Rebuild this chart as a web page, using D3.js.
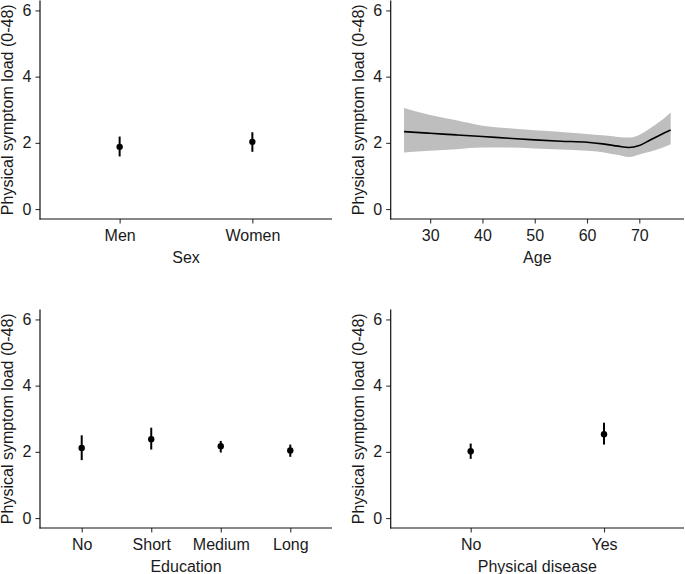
<!DOCTYPE html>
<html>
<head>
<meta charset="utf-8">
<script src="https://cdn.jsdelivr.net/npm/d3@7"></script>
<style>
  html, body { margin: 0; padding: 0; background: #fff; }
  svg text { font-family: "Liberation Sans", Arial, sans-serif; fill: #1a1a1a; }
</style>
</head>
<body>
<svg id="chart" width="685" height="574"></svg>
<script>
// ---------- data ----------
const yTicks = [0, 2, 4, 6];
const yTitle = "Physical symptom load (0-48)";

const sexCats  = ["Men", "Women"];
const sexMean  = [1.88, 2.03];
const sexLow   = [1.59, 1.73];
const sexHigh  = [2.19, 2.32];

const eduCats  = ["No", "Short", "Medium", "Long"];
const eduMean  = [2.12, 2.38, 2.17, 2.04];
const eduLow   = [1.75, 2.07, 1.98, 1.85];
const eduHigh  = [2.50, 2.73, 2.33, 2.22];

const disCats  = ["No", "Yes"];
const disMean  = [2.02, 2.53];
const disLow   = [1.79, 2.22];
const disHigh  = [2.25, 2.88];

const ageTicks = [30, 40, 50, 60, 70];
const ages     = [25, 30, 35, 40, 45, 50, 55, 60, 63, 66, 68, 70, 72, 74, 76];
const ageFit   = [2.34, 2.29, 2.24, 2.19, 2.14, 2.09, 2.05, 2.02, 1.97, 1.90, 1.86, 1.92, 2.08, 2.24, 2.39];
const ageUpper = [3.05, 2.84, 2.68, 2.52, 2.44, 2.38, 2.33, 2.27, 2.23, 2.18, 2.16, 2.24, 2.43, 2.65, 2.92];
const ageLower = [1.71, 1.76, 1.81, 1.86, 1.86, 1.83, 1.80, 1.76, 1.72, 1.63, 1.57, 1.65, 1.73, 1.83, 1.96];

// ---------- layout ----------
const svg = d3.select("#chart");
const FS = 16;
const panels = {
  tl: {x0: 40,    x1: 332, y0: 0.5,   y1: 219},
  tr: {x0: 390.7, x1: 684, y0: 0.5,   y1: 219},
  bl: {x0: 40,    x1: 332, y0: 309.5, y1: 528},
  br: {x0: 390.7, x1: 684, y0: 309.5, y1: 528}
};

function yScaleFor(p) {
  return d3.scaleLinear().domain([-0.3, 6.3]).range([p.y1, p.y0]);
}

function styleAxis(a) {
  a.select(".domain").remove();
  a.selectAll(".tick line").attr("stroke", "#333").attr("stroke-width", 1.1);
  a.selectAll(".tick text").style("font-size", FS + "px").attr("fill", "#1a1a1a")
    .style("font-family", '"Liberation Sans", Arial, sans-serif');
}

function drawFrame(p, y, xAxisGen, xTitle) {
  const g = svg.append("g");
  const ya = g.append("g").attr("transform", `translate(${p.x0},0)`)
    .call(d3.axisLeft(y).tickValues(yTicks).tickFormat(d3.format("d")).tickSize(4.5).tickPadding(4));
  const xa = g.append("g").attr("transform", `translate(0,${p.y1})`)
    .call(xAxisGen.tickSize(4.5).tickPadding(5));
  styleAxis(ya); styleAxis(xa);
  xa.selectAll(".tick text").attr("dy", "0.75em");
  g.append("line").attr("x1", p.x0).attr("x2", p.x0).attr("y1", p.y0).attr("y2", p.y1 + 0.5)
    .attr("stroke", "#111").attr("stroke-width", 1.2);
  g.append("line").attr("x1", p.x0 - 0.5).attr("x2", p.x1).attr("y1", p.y1).attr("y2", p.y1)
    .attr("stroke", "#111").attr("stroke-width", 1.2);
  g.append("text").attr("x", (p.x0 + p.x1) / 2).attr("y", p.y1 + 43.5)
    .attr("text-anchor", "middle").style("font-size", FS + "px").text(xTitle);
  g.append("text")
    .attr("transform", `translate(${p.x0 - 26.8},${(p.y0 + p.y1) / 2}) rotate(-90)`)
    .attr("text-anchor", "middle").style("font-size", FS + "px").text(yTitle);
}

function pointPanel(p, cats, mean, low, high, xTitle) {
  const n = cats.length;
  const idx = d3.range(1, n + 1);
  const x = d3.scaleLinear().domain([0.4, n + 0.6]).range([p.x0, p.x1]);
  const y = yScaleFor(p);
  const xAxisScale = d3.scalePoint().domain(cats).range([x(1), x(n)]);
  drawFrame(p, y, d3.axisBottom(xAxisScale), xTitle);
  const data = idx.map((i, k) => ({i, m: mean[k], lo: low[k], hi: high[k]}));
  const g = svg.append("g");
  g.selectAll("line.err").data(data).join("line").attr("class", "err")
    .attr("x1", d => x(d.i)).attr("x2", d => x(d.i))
    .attr("y1", d => y(d.lo)).attr("y2", d => y(d.hi))
    .attr("stroke", "#000").attr("stroke-width", 2);
  g.selectAll("circle").data(data).join("circle")
    .attr("cx", d => x(d.i)).attr("cy", d => y(d.m)).attr("r", 3.2).attr("fill", "#000");
}

function agePanel(p) {
  const span = ages[ages.length - 1] - ages[0];
  const x = d3.scaleLinear()
    .domain([ages[0] - 0.05 * span, ages[ages.length - 1] + 0.05 * span])
    .range([p.x0, p.x1]);
  const y = yScaleFor(p);
  const data = ages.map((a, k) => ({a, f: ageFit[k], u: ageUpper[k], l: ageLower[k]}));
  const area = d3.area().x(d => x(d.a)).y0(d => y(d.l)).y1(d => y(d.u)).curve(d3.curveMonotoneX);
  const line = d3.line().x(d => x(d.a)).y(d => y(d.f)).curve(d3.curveMonotoneX);
  const g0 = svg.append("g");
  g0.append("path").datum(data).attr("d", area).attr("fill", "#bebebe");
  g0.append("path").datum(data).attr("d", line).attr("fill", "none")
    .attr("stroke", "#000").attr("stroke-width", 1.6);
  drawFrame(p, y, d3.axisBottom(x).tickValues(ageTicks), "Age");
}

pointPanel(panels.tl, sexCats, sexMean, sexLow, sexHigh, "Sex");
agePanel(panels.tr);
pointPanel(panels.bl, eduCats, eduMean, eduLow, eduHigh, "Education");
pointPanel(panels.br, disCats, disMean, disLow, disHigh, "Physical disease");
</script>
</body>
</html>
